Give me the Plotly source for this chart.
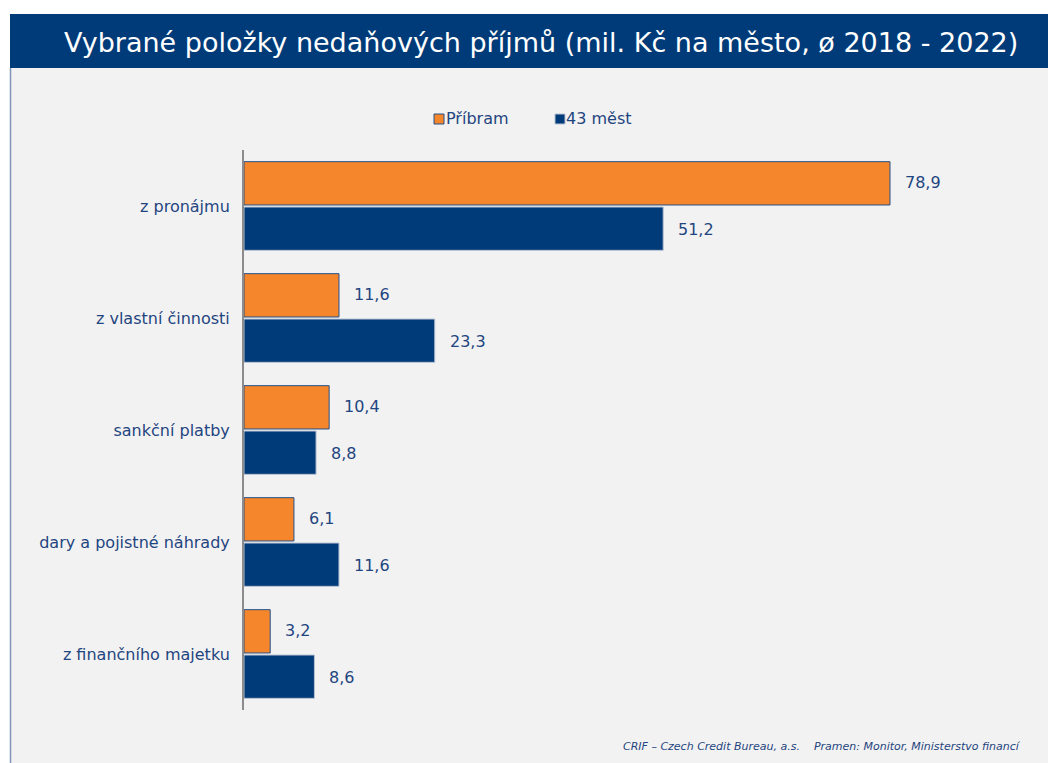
import plotly.graph_objects as go

categories = ["z pronájmu", "z vlastní činnosti", "sankční platby", "dary a pojistné náhrady", "z finančního majetku"]
pribram = [78.9, 11.6, 10.4, 6.1, 3.2]
mest43 = [51.2, 23.3, 8.8, 11.6, 8.6]
series_names = ["Příbram", "43 měst"]

ORANGE = "#f5862b"
NAVY = "#003b79"
TEXT = "#1f4580"
FONT = "DejaVu Sans"

OFF = 8  # page body margin
W, H = 1056 - OFF, 763 - OFF
L, R, T, B = 244 - OFF, 26, 150 - OFF, 53
PW, PH = W - L - R, H - T - B

def px(x):
    return (x - OFF - L) / PW

def py(y):
    return (H - B - (y - OFF)) / PH

fig = go.Figure()
fig.add_trace(go.Bar(y=categories, x=pribram, orientation="h", name=series_names[0],
                     marker=dict(color=ORANGE, line=dict(color="#24508a", width=1)),
                     showlegend=False))
fig.add_trace(go.Bar(y=categories, x=mest43, orientation="h", name=series_names[1],
                     marker=dict(color=NAVY, line=dict(color="#b8c2d2", width=1)),
                     showlegend=False))

def fmt(v):
    return f"{v:.1f}".replace(".", ",")

annotations = []
for c, a, b in zip(categories, pribram, mest43):
    annotations.append(dict(x=a, y=c, xref="x", yref="y", text=fmt(a), showarrow=False,
                            xanchor="left", xshift=13, yshift=24,
                            font=dict(family=FONT, size=16, color=TEXT)))
    annotations.append(dict(x=b, y=c, xref="x", yref="y", text=fmt(b), showarrow=False,
                            xanchor="left", xshift=13, yshift=-23,
                            font=dict(family=FONT, size=16, color=TEXT)))

# title
annotations.append(dict(x=px(541), y=py(42), xref="paper", yref="paper",
                        text="Vybrané položky nedaňových příjmů (mil. Kč na město, ø 2018 - 2022)",
                        showarrow=False, xanchor="center", yanchor="middle",
                        font=dict(family=FONT, size=27, color="white")))
# legend texts
annotations.append(dict(x=px(444), y=py(119), xref="paper", yref="paper", text=series_names[0],
                        showarrow=False, xanchor="left", yanchor="middle",
                        font=dict(family=FONT, size=16, color=TEXT)))
annotations.append(dict(x=px(564), y=py(119), xref="paper", yref="paper", text=series_names[1],
                        showarrow=False, xanchor="left", yanchor="middle",
                        font=dict(family=FONT, size=16, color=TEXT)))
# footer
annotations.append(dict(x=px(1023), y=py(746), xref="paper", yref="paper",
                        text="<i>CRIF – Czech Credit Bureau, a.s.    Pramen: Monitor, Ministerstvo financí</i>",
                        showarrow=False, xanchor="right", yanchor="middle",
                        font=dict(family=FONT, size=11, color=TEXT)))

shapes = [
    dict(type="rect", xref="paper", yref="paper", x0=px(-5), x1=px(1065), y0=py(14), y1=py(-5),
         fillcolor="white", line=dict(width=0), layer="below"),
    dict(type="rect", xref="paper", yref="paper", x0=px(10), x1=px(1065), y0=py(68), y1=py(14),
         fillcolor=NAVY, line=dict(width=0), layer="below"),
    dict(type="rect", xref="paper", yref="paper", x0=px(-5), x1=px(10), y0=py(770), y1=py(14),
         fillcolor="white", line=dict(width=0), layer="below"),
    dict(type="line", xref="paper", yref="paper", x0=px(10.5), x1=px(10.5), y0=py(68), y1=py(770),
         line=dict(color="#7f95b8", width=1.5)),
    dict(type="rect", xref="paper", yref="paper", x0=px(434), x1=px(444), y0=py(124), y1=py(114),
         fillcolor=ORANGE, line=dict(color="#24508a", width=1)),
    dict(type="rect", xref="paper", yref="paper", x0=px(555), x1=px(565), y0=py(124), y1=py(114),
         fillcolor=NAVY, line=dict(color="#b8c2d2", width=1)),
]

fig.update_layout(
    width=W, height=H,
    margin=dict(l=L, r=R, t=T, b=B, pad=0),
    paper_bgcolor="#f2f2f2", plot_bgcolor="#f2f2f2",
    barmode="group", bargap=0.19, bargroupgap=0.045,
    separators=", ",
    annotations=annotations, shapes=shapes,
    showlegend=False,
    xaxis=dict(range=[0, PW / (646 / 78.9)], visible=False, showgrid=False, zeroline=False),
    yaxis=dict(autorange="reversed", showline=True, linecolor="#8c8c8c", linewidth=2,
               ticks="", ticklabelstandoff=9, showgrid=False,
               tickfont=dict(family=FONT, size=16, color=TEXT)),
)

fig.write_html("out.html")
